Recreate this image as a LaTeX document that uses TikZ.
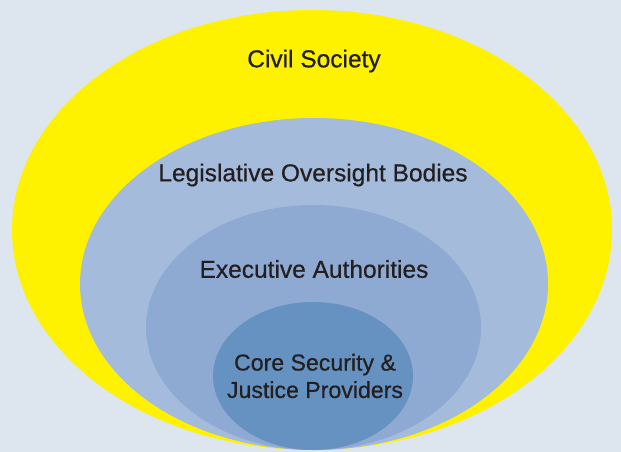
\documentclass[tikz,border=0pt]{standalone}
\usepackage{fontspec}
\setmainfont{Liberation Sans}[FakeBold=0.6]
\usepackage{tikz}
\definecolor{bgblue}{HTML}{DDE5EF}
\definecolor{civyellow}{HTML}{FFF200}
\definecolor{legblue}{HTML}{A4BBDC}
\definecolor{exeblue}{HTML}{8EAAD2}
\definecolor{coreblue}{HTML}{6692C2}
\definecolor{txtgray}{HTML}{231F20}
\begin{document}
\begin{tikzpicture}[x=1bp,y=-1bp,
			layer/.style={text=txtgray,font=\fontsize{24.6}{28}\selectfont,align=center,inner sep=0pt}]
			\fill[bgblue] (0,0) rectangle (621,452);
			\useasboundingbox (0,0) rectangle (621,452);
			% nested circles, all touching at the bottom
			\fill[civyellow] (312,230) ellipse (300 and 220);
			\fill[legblue] (314,284) ellipse (234 and 166);
			\fill[exeblue] (313.5,327.5) ellipse (167.5 and 122.5);
			\fill[coreblue] (313,376) ellipse (100 and 74);
			\node[layer] (civil) at (314,61) {Civil Society};
			\node[layer] (legis) at (313,175) {Legislative Oversight Bodies};
			\node[layer] (exec) at (314,269) {Executive Authorities};
			\node[layer,font=\fontsize{23.2}{27.5}\selectfont] (core) at (315,376) {Core Security \&\\Justice Providers};
		\end{tikzpicture}
\end{document}
